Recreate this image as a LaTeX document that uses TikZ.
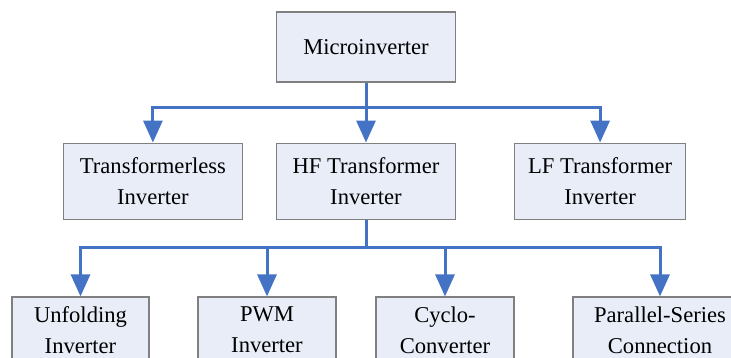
\documentclass[tikz,border=0pt]{standalone}
\usepackage{fontspec}
\setmainfont{Liberation Serif}
\usetikzlibrary{arrows.meta, positioning}
\definecolor{boxfill}{HTML}{E8EDF8}
\definecolor{boxline}{HTML}{808080}
\definecolor{linkblue}{HTML}{4472C4}
\tikzset{
  box/.style={rectangle,draw=boxline,line width=1.1pt,fill=boxfill,align=center,inner sep=2pt,
    minimum width=179pt,minimum height=76pt,font=\fontsize{22.6}{31}\selectfont},
  leaf/.style={box,minimum height=66pt},
  link/.style={draw=linkblue,line width=3pt},
  line/.style={link,-{Triangle[length=22pt,width=19pt]}}
}

\begin{document}
\begin{tikzpicture}[x=1pt,y=1pt]
\useasboundingbox (0,0) rectangle (731,-358);
\clip (0,0) rectangle (731,-358);
\node[box, minimum height=70pt] (micro) at (366,-47) {Microinverter};
\node[box, below=60pt of micro] (hf) {HF Transformer\\Inverter};
\node[box, left=33pt of hf] (tless) {Transformerless\\Inverter};
\node[box, right=58pt of hf, minimum width=171pt] (lf) {LF Transformer\\Inverter};
\node[leaf, minimum width=137pt] (unfold) at (80.5,-330) {Unfolding\\Inverter};
\node[leaf, minimum width=138pt] (pwm) at (267,-330) {PWM\\Inverter};
\node[leaf, minimum width=138pt] (cyclo) at (445,-330) {Cyclo-\\Converter};
\node[leaf, minimum width=174pt] (parser) at (660,-330) {Parallel-Series\\Connection};
\coordinate[below=25pt of micro] (split1);
\coordinate[below=28pt of hf] (split2);
\draw[link] (micro) -- (split1);
\draw[line] (split1) -| (tless);
\draw[line] (split1) -- (hf);
\draw[line] (split1) -| (lf);
\draw[link] (hf) -- (split2);
\draw[line] (split2) -| (unfold);
\draw[line] (split2) -| (pwm);
\draw[line] (split2) -| (cyclo);
\draw[line] (split2) -| (parser);
\end{tikzpicture}
\end{document}
